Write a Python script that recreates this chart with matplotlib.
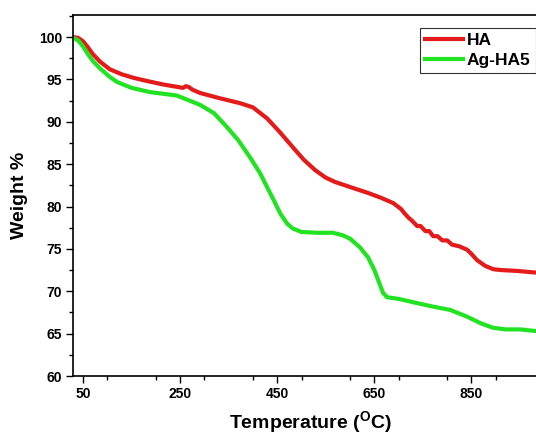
import matplotlib
matplotlib.use("Agg")
import matplotlib.pyplot as plt
from matplotlib.ticker import MultipleLocator

plt.rcParams['font.family'] = ['Liberation Sans', 'DejaVu Sans']
plt.rcParams['mathtext.fontset'] = 'custom'
plt.rcParams['mathtext.rm'] = 'Liberation Sans:bold'
plt.rcParams['mathtext.bf'] = 'Liberation Sans:bold'

ha_x = [30, 40, 50, 60, 70, 85, 105, 130, 153, 175, 215, 256, 262, 268, 275, 291, 330, 373, 400,
        429, 455, 482, 505, 528, 550, 569, 600, 637, 665, 689, 705, 712, 720, 728, 738, 745, 755,
        763, 771, 780, 790, 800, 810, 825, 841, 850, 861, 878, 895, 911, 944, 983, 1005]
ha_y = [100.0, 99.9, 99.5, 98.8, 98.0, 97.1, 96.2, 95.6, 95.2, 94.9, 94.4, 94.0, 94.2, 94.1, 93.8,
        93.4, 92.8, 92.2, 91.7, 90.4, 88.8, 87.0, 85.5, 84.3, 83.4, 82.9, 82.3, 81.6, 81.0, 80.4,
        79.7, 79.2, 78.7, 78.3, 77.7, 77.7, 77.1, 77.1, 76.5, 76.5, 76.0, 76.0, 75.5, 75.3, 74.9,
        74.4, 73.7, 73.0, 72.6, 72.5, 72.4, 72.2, 72.2]

ag_x = [30, 40, 50, 60, 70, 85, 105, 120, 150, 188, 243, 291, 320, 346, 370, 394, 415, 429, 445,
        456, 470, 482, 500, 532, 565, 585, 600, 620, 637, 650, 660, 668, 676, 700, 738, 770, 806,
        841, 870, 894, 920, 950, 983, 1005]
ag_y = [99.9, 99.6, 98.9, 98.0, 97.2, 96.3, 95.3, 94.7, 94.0, 93.5, 93.1, 92.0, 91.0, 89.4, 87.8,
        85.8, 83.9, 82.3, 80.5, 79.2, 78.0, 77.4, 77.0, 76.9, 76.9, 76.6, 76.2, 75.2, 74.0, 72.5,
        71.0, 69.8, 69.3, 69.1, 68.6, 68.2, 67.8, 67.0, 66.2, 65.7, 65.5, 65.5, 65.3, 65.3]

x_ticks = [50, 250, 450, 650, 850]
y_ticks = [60, 65, 70, 75, 80, 85, 90, 95, 100]

fig = plt.figure(figsize=(5.36, 4.41), dpi=100)
ax = fig.add_axes([73/536, 65/441, (547-73)/536, (376-15)/441])

ax.plot(ha_x, ha_y, color='#e51b1b', lw=3, label='HA')
ax.plot(ag_x, ag_y, color='#22e322', lw=3, label='Ag-HA5')

ax.set_xlim(29.4, 1005.5)
ax.set_ylim(60, 102.6)
ax.set_xticks(x_ticks)
ax.set_yticks(y_ticks)
ax.xaxis.set_minor_locator(MultipleLocator(100))
ax.yaxis.set_minor_locator(MultipleLocator(2.5))
ax.tick_params(which='major', direction='out', length=5, width=1, labelsize=10, pad=3)
ax.tick_params(which='minor', direction='out', length=3, width=1)
for lab in ax.get_xticklabels() + ax.get_yticklabels():
    lab.set_fontweight('bold')

for s in ax.spines.values():
    s.set_linewidth(1.2)
ax.spines['right'].set_visible(False)

ax.set_xlabel(r'Temperature ($^{\mathrm{O}}$C)', fontsize=14, fontweight='bold', labelpad=6)
ax.set_ylabel('Weight %', fontsize=14, fontweight='bold', labelpad=8)

leg = ax.legend(loc='upper left', bbox_to_anchor=(420/536, 1 - 28/441),
                bbox_transform=fig.transFigure, frameon=True, fancybox=False,
                prop={'weight': 'bold', 'size': 12.5}, handlelength=2.2, handletextpad=0.2,
                borderpad=0.3, labelspacing=0.25, borderaxespad=0)
leg.get_frame().set_edgecolor('black')
leg.get_frame().set_linewidth(0.8)

fig.savefig('out.png', dpi=100)
